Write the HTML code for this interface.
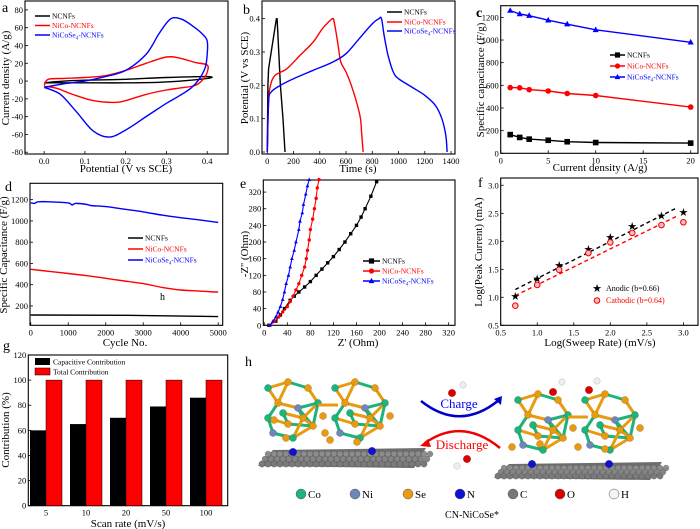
<!DOCTYPE html>
<html><head><meta charset="utf-8">
<style>
html,body{margin:0;padding:0;background:#fff;}
svg{display:block;font-family:"Liberation Serif",serif;}
</style></head>
<body>
<svg id="fig" width="700" height="529" viewBox="0 0 700 529" xmlns="http://www.w3.org/2000/svg"></svg>
<script>
// ---------- Panel a: CV ----------
const aBlackX=[0,0.05,0.1,0.2,0.3,0.4,0.4,0.3,0.2,0.1,0.02,0];
const aBlackY=[-2,0,1,2,4,5,3,-1,-2,-2,-2,-2];
const aRedX=[0,0.01,0.05,0.1,0.15,0.2,0.25,0.3,0.33,0.37,0.4,0.4,0.39,0.37,0.33,0.3,0.25,0.2,0.17,0.12,0.07,0.03,0];
const aRedY=[-5,2,3,4,6,12,20,27,26,21,18,10,2,-5,-8,-10,-15,-22,-24,-22,-15,-8,-6];
const aBlueX=[0,0.05,0.1,0.15,0.2,0.25,0.28,0.3,0.315,0.34,0.37,0.39,0.4,0.4,0.395,0.38,0.36,0.33,0.3,0.25,0.2,0.16,0.12,0.08,0.04,0];
const aBlueY=[-7,-3,0,5,12,30,52,65,71,69,60,52,45,30,15,2,-8,-17,-25,-40,-55,-63,-56,-35,-15,-7];
// ---------- Panel b: GCD ----------
const bBlackT=[0,5,10,30,50,70,75,100,120,135];
const bBlackV=[0,0.2,0.25,0.3,0.35,0.4,0.4,0.2,0.1,0];
const bRedT=[0,10,25,60,150,250,350,420,480,500,510,540,560,600,640,680,710,720,730];
const bRedV=[0,0.15,0.2,0.23,0.25,0.29,0.33,0.37,0.395,0.4,0.39,0.32,0.27,0.24,0.2,0.15,0.1,0.05,0];
const bBlueT=[0,10,30,100,200,350,500,600,700,800,850,870,890,920,960,1000,1100,1200,1280,1330,1360,1370];
const bBlueV=[0,0.15,0.18,0.2,0.22,0.245,0.27,0.295,0.34,0.385,0.4,0.4,0.35,0.29,0.24,0.22,0.195,0.17,0.14,0.1,0.05,0];
// ---------- Panel c: rate ----------
const cDensity=[1,2,3,5,7,10,20];
const cNCNF=[165,140,125,115,102,95,90];
const cNiCo=[580,578,562,550,528,510,408];
const cNiCoSe=[1260,1230,1215,1175,1140,1090,980];
// ---------- Panel d: cycling ----------
const dBlueC=[0,100,200,500,1000,1100,1200,1500,1600,2000,2500,3000,3500,4000,4500,5000];
const dBlueV=[1170,1165,1180,1180,1170,1150,1165,1155,1145,1135,1110,1085,1055,1030,1010,985];
const dRedC=[0,500,1000,1500,2000,2500,3000,3500,4000,4500,5000];
const dRedV=[545,525,505,485,460,435,410,375,350,340,330];
const dBlackC=[0,2500,5000];
const dBlackV=[115,112,100];
// ---------- Panel e: Nyquist ----------
const eBlackZr=[8,20,28,35,45,52,60,70,80,90,100,110,120,130,140,150,160,168,175,185,195];
const eBlackZi=[0,10,25,40,60,70,80,92,105,120,135,150,165,182,200,220,240,260,280,310,345];
const eRedZr=[10,18,25,32,40,45,50,55,60,65,70,73,75,78,80,84,87,90,92,95];
const eRedZi=[0,10,20,32,45,57,70,85,100,120,140,160,180,205,230,255,280,305,330,350];
const eBlueZr=[10,15,20,24,28,32,35,38,42,45,48,52,55,60,62,66,68,72,75,78];
const eBlueZi=[0,10,20,32,45,62,80,100,120,140,160,180,200,230,250,270,290,315,335,350];
// ---------- Panel f: b-value ----------
const fLogRate=[0.7,1,1.3,1.7,2,2.3,2.7,3];
const fAnodic=[1.01,1.33,1.57,1.85,2.07,2.26,2.45,2.51];
const fCathodic=[0.85,1.22,1.49,1.79,1.98,2.15,2.29,2.34];
const fFitX=[0.7,2.9];
const fFitAnodic=[1.14,2.59];
const fFitCathodic=[1.03,2.44];
// ---------- Panel g: contribution ----------
const gRates=["5","10","20","50","100"];
const gCapacitive=[60,65,70,79,86];
const gTotal=[100,100,100,100,100];

const NS="http://www.w3.org/2000/svg";
const svg=document.getElementById('fig');
const TICK=8.5;
function el(tag,attrs,parent){const e=document.createElementNS(NS,tag);for(const k in attrs)e.setAttribute(k,attrs[k]);(parent||svg).appendChild(e);return e;}
function txt(s,x,y,size,attrs,parent){const t=el('text',Object.assign({x:x,y:y,'font-size':size,fill:'#000'},attrs||{}),parent);t.textContent=s;return t;}

function axes(name,F,D,xt,yt,xfmt,yfmt){
  const g=el('g',{});
  
  
  const sx=v=>F.x0+(v-D.xmin)/(D.xmax-D.xmin)*(F.x1-F.x0);
  const sy=v=>F.y1-(v-D.ymin)/(D.ymax-D.ymin)*(F.y1-F.y0);
  const fr=el('rect',{x:F.x0,y:F.y0,width:F.x1-F.x0,height:F.y1-F.y0,fill:'none',stroke:'#000','stroke-width':1.1},g);
  
  
  xt.forEach(v=>{const x=sx(v);el('line',{x1:x,x2:x,y1:F.y1,y2:F.y1-3,stroke:'#000','stroke-width':0.8},g);
    const t=txt(xfmt?xfmt(v):String(v),x,F.y1+10,TICK,{'text-anchor':'middle'},g);
    
    });
  yt.forEach(v=>{const y=sy(v);el('line',{x1:F.x0,x2:F.x0+3,y1:y,y2:y,stroke:'#000','stroke-width':0.8},g);
    const t=txt(yfmt?yfmt(v):String(v),F.x0-2,y+3,TICK,{'text-anchor':'end'},g);
    
    });
  return {sx,sy,g};
}
function smoothPath(P){
  let d='M'+P[0][0].toFixed(1)+','+P[0][1].toFixed(1);
  for(let i=0;i<P.length-1;i++){
    const p0=P[Math.max(0,i-1)],p1=P[i],p2=P[i+1],p3=P[Math.min(P.length-1,i+2)];
    const c1=[p1[0]+(p2[0]-p0[0])/6,p1[1]+(p2[1]-p0[1])/6];
    const c2=[p2[0]-(p3[0]-p1[0])/6,p2[1]-(p3[1]-p1[1])/6];
    d+=`C${c1[0].toFixed(1)},${c1[1].toFixed(1)} ${c2[0].toFixed(1)},${c2[1].toFixed(1)} ${p2[0].toFixed(1)},${p2[1].toFixed(1)}`;
  }
  return d;
}
function line(A,xs,ys,color,name,extra,smooth){
  const P=xs.map((x,i)=>[A.sx(x),A.sy(ys[i])]);
  const d=smooth?smoothPath(P):P.map((p,i)=>(i?'L':'M')+p[0].toFixed(1)+','+p[1].toFixed(1)).join('');
  const p=el('path',Object.assign({d:d,fill:'none',stroke:color,'stroke-width':1.4,'stroke-linejoin':'round'},extra||{}),A.g);
  
  
  return p;
}
function marker(g,kind,x,y,color,r){
  if(kind==='sq')return el('rect',{x:x-r,y:y-r,width:2*r,height:2*r,fill:color},g);
  if(kind==='ci')return el('circle',{cx:x,cy:y,r:r,fill:color},g);
  if(kind==='tr')return el('path',{d:`M${x},${y-r*1.2}L${x+r*1.1},${y+r*0.8}L${x-r*1.1},${y+r*0.8}Z`,fill:color},g);
}
function legendLine(g,x1,x2,y,color,label,name,kind,tcolor){
  const lg=el('g',{},g);
  
  
  el('line',{x1:x1,x2:x2,y1:y,y2:y,stroke:color,'stroke-width':1.5},lg);
  if(kind)marker(lg,kind,(x1+x2)/2,y,color,2.6);
  const t=txt('',x2+2,y+2.5,7.5,{fill:tcolor||color},lg);
  return t;
}
function setLabel(t,parts){parts.forEach(p=>{const s=el('tspan',p.sub?{'font-size':5,dy:2}:{dy:p.up?-2:0},t);s.textContent=p.t;});}
function seLabel(t){setLabel(t,[{t:'NiCoSe'},{t:'4',sub:true},{t:'-NCNFs',up:true}]);}
function ytitle(s,x,y,name,size){const t=txt(s,x,y,size||11,{'text-anchor':'middle',transform:`rotate(-90 ${x} ${y})`});return t;}
function xtitle(s,x,y,name,size){const t=txt(s,x,y,size||11,{'text-anchor':'middle'});return t;}
function plabel(s,x,y,name){const t=txt(s,x,y,14,{});}

// ===== a =====
{const A=axes('panel-a-axes',{x0:25,x1:228,y0:1,y1:154},{xmin:-0.047,xmax:0.451,ymin:-82,ymax:90},[0,0.1,0.2,0.3,0.4],[-80,-60,-40,-20,0,20,40,60,80],v=>v.toFixed(1));
 line(A,aBlackX,aBlackY,'#000','cv-ncnfs',null,true);line(A,aRedX,aRedY,'#f00','cv-nico',null,true);line(A,aBlueX,aBlueY,'#00f','cv-nicose',null,true);
 legendLine(A.g,35,50,16,'#000','','legend-ncnfs').textContent='NCNFs';
 legendLine(A.g,35,50,25.5,'#f00','','legend-nico').textContent='NiCo-NCNFs';
 seLabel(legendLine(A.g,35,50,35,'#00f','','legend-nicose'));
 ytitle('Current density (A/g)',9,78,'y-axis-title-a');xtitle('Potential (V vs SCE)',126,172,'x-axis-title-a');plabel('a',2,12,'panel-label-a');}
// ===== b =====
{const A=axes('panel-b-axes',{x0:262,x1:455,y0:1,y1:154},{xmin:-40,xmax:1430,ymin:-0.006,ymax:0.453},[0,200,400,600,800,1000,1200,1400],[0,0.1,0.2,0.3,0.4],null,v=>v.toFixed(1));
 line(A,bBlackT,bBlackV,'#000','gcd-ncnfs');line(A,bRedT,bRedV,'#f00','gcd-nico',null,true);line(A,bBlueT,bBlueV,'#00f','gcd-nicose',null,true);
 legendLine(A.g,387,402,12,'#000','','legend-b-ncnfs').textContent='NCNFs';
 legendLine(A.g,387,402,22,'#f00','','legend-b-nico').textContent='NiCo-NCNFs';
 seLabel(legendLine(A.g,387,402,31,'#00f','','legend-b-nicose'));
 ytitle('Potential (V vs SCE)',248,78,'y-axis-title-b');xtitle('Time (s)',358,172,'x-axis-title-b');plabel('b',243,14,'panel-label-b');}
// ===== c =====
{const A=axes('panel-c-axes',{x0:500.7,x1:698,y0:5.7,y1:153.3},{xmin:0,xmax:20.77,ymin:0,ymax:1303},[0,5,10,15,20],[0,200,400,600,800,1000,1200]);
 [[cNCNF,'#000','sq','rate-ncnfs'],[cNiCo,'#f00','ci','rate-nico'],[cNiCoSe,'#00f','tr','rate-nicose']].forEach(([ys,c,k,n])=>{
  line(A,cDensity,ys,c,n);cDensity.forEach((x,i)=>{const m=marker(A.g,k,A.sx(x),A.sy(ys[i]),c,2.8);});});
 legendLine(A.g,610,625,55,'#000','','legend-c-ncnfs','sq').textContent='NCNFs';
 legendLine(A.g,610,625,66,'#f00','','legend-c-nico','ci').textContent='NiCo-NCNFs';
 seLabel(legendLine(A.g,610,625,77,'#00f','','legend-c-nicose','tr'));
 ytitle('Specific capacitance (F/g)',484,80,'y-axis-title-c');xtitle('Current density (A/g)',600,171,'x-axis-title-c');
 const t=txt('c',476,17,14,{'font-weight':'bold'});}
// ===== d =====
{const A=axes('panel-d-axes',{x0:30,x1:222.7,y0:183.3,y1:325.3},{xmin:-20,xmax:5120,ymin:18,ymax:1354},[0,1000,2000,3000,4000,5000],[200,400,600,800,1000,1200]);
 line(A,dBlackC,dBlackV,'#000','cycle-ncnfs');line(A,dRedC,dRedV,'#f00','cycle-nico',null,true);line(A,dBlueC,dBlueV,'#00f','cycle-nicose',null,true);
 legendLine(A.g,128,143,238,'#000','','legend-d-ncnfs',null,'#000').textContent='NCNFs';
 legendLine(A.g,128,143,249,'#f00','','legend-d-nico').textContent='NiCo-NCNFs';
 seLabel(legendLine(A.g,128,143,260,'#00f','','legend-d-nicose'));
 const h=txt('h',160,300,10,{});
 ytitle('Specific Capacitance (F/g)',7,255,'y-axis-title-d',11);xtitle('Cycle No.',125,346,'x-axis-title-d');plabel('d',5,191,'panel-label-d');}
// ===== e =====
{const A=axes('panel-e-axes',{x0:263.3,x1:455,y0:180,y1:325.3},{xmin:-1.7,xmax:331,ymin:0,ymax:349},[0,40,80,120,160,200,240,280,320],[0,40,80,120,160,200,240,280,320]);
 [[eBlackZr,eBlackZi,'#000','sq','eis-ncnfs'],[eRedZr,eRedZi,'#f00','ci','eis-nico'],[eBlueZr,eBlueZi,'#00f','tr','eis-nicose']].forEach(([xs,ys,c,k,n])=>{
  line(A,xs,ys,c,n,{'stroke-width':1.1});xs.forEach((x,i)=>{const m=marker(A.g,k,A.sx(x),A.sy(ys[i]),c,1.7);});});
 legendLine(A.g,363,380,261,'#000','','legend-e-ncnfs','sq').textContent='NCNFs';
 legendLine(A.g,363,380,271,'#f00','','legend-e-nico','ci').textContent='NiCo-NCNFs';
 seLabel(legendLine(A.g,363,380,281,'#00f','','legend-e-nicose','tr'));
 ytitle("-Z'' (Ohm)",248,254,'y-axis-title-e');xtitle("Z' (Ohm)",358,346,'x-axis-title-e');plabel('e',240,188,'panel-label-e');}
// ===== f =====
{const A=axes('panel-f-axes',{x0:500.7,x1:698,y0:178,y1:325.3},{xmin:0.5,xmax:3.2,ymin:0.5,ymax:3.13},[0.5,1,1.5,2,2.5,3],[0.5,1,1.5,2,2.5,3],v=>v.toFixed(1),v=>v.toFixed(1));
 line(A,fFitX,fFitAnodic,'#000','fit-anodic',{'stroke-dasharray':'4 3'});line(A,fFitX,fFitCathodic,'#f00','fit-cathodic',{'stroke-dasharray':'4 3'});
 fLogRate.forEach((x,i)=>{const s=txt('★',A.sx(x),A.sy(fAnodic[i])+3.5,11,{'text-anchor':'middle'},A.g);
  const c=el('circle',{cx:A.sx(x),cy:A.sy(fCathodic[i]),r:2.8,fill:'#fbb',stroke:'#e00','stroke-width':1},A.g);});
 const l1=txt('★',597,292,11,{'text-anchor':'middle'});
 txt('Anodic (b=0.66)',606,291,8,{});
 const l2=el('circle',{cx:597,cy:300.5,r:2.8,fill:'#fbb',stroke:'#e00','stroke-width':1});
 txt('Cathodic (b=0.64)',606,303,8,{fill:'#f00'});
 ytitle('Log(Peak Current) (mA)',482,252,'y-axis-title-f');xtitle('Log(Sweep Rate) (mV/s)',600,346,'x-axis-title-f');plabel('f',478,187,'panel-label-f');}
// ===== g =====
{const F={x0:28.3,x1:227.7,y0:355,y1:505.7};
 const A=axes('panel-g-axes',F,{xmin:0,xmax:1,ymin:0,ymax:120},[],[0,20,40,60,80,100,120]);
 const cx=i=>F.x0+17.7+40*i;
 gRates.forEach((r,i)=>{
  const b=el('rect',{x:cx(i)-16,y:A.sy(gCapacitive[i]),width:16,height:A.sy(0)-A.sy(gCapacitive[i]),fill:'#000'},A.g);
  const t=el('rect',{x:cx(i),y:A.sy(gTotal[i]),width:16,height:A.sy(0)-A.sy(gTotal[i]),fill:'#f00',stroke:'#000','stroke-width':0.5},A.g);
  const lb=txt(r,cx(i),F.y1+10,TICK,{'text-anchor':'middle'},A.g);});
 const r1=el('rect',{x:35,y:358,width:15,height:7,fill:'#000'});
 txt('Capacitive Contribution',53,364.5,7.5,{});
 const r2=el('rect',{x:35,y:368,width:15,height:7,fill:'#f00',stroke:'#000','stroke-width':0.5});
 txt('Total Contribution',53,374.5,7.5,{});
 ytitle('Contribution (%)',9,430,'y-axis-title-g');xtitle('Scan rate (mV/s)',128,527,'x-axis-title-g');plabel('g',3,350,'panel-label-g');}

// ===== h : schematic =====
{const g=el('g',{});
 plabel('h',245,366,'panel-label-h');
 const COL={Co:'#1db37a',Ni:'#6f86b8',Se:'#e89a10',N:'#1010d0',C:'#777',O:'#d00',H:'#eee'};
 function ball(x,y,r,c){el('circle',{cx:x,cy:y,r:r,fill:c,stroke:'rgba(0,0,0,0.25)','stroke-width':0.5},g);}
 function slab(x0,x1,y,dy){el('path',{d:`M${x0},${y+dy}L${x0+15},${y}L${x1},${y-2}L${x1-12},${y+dy+2}Z`,fill:'#6e6e6e'},g);
   for(let x=x0+4;x<x1;x+=6){ball(x,y+dy-2,3.2,'#7a7a7a');ball(x+6,y+4,3,'#8c8c8c');ball(x+3,y+dy/2+1,3,'#858585');}}
 function cluster(ox,oy){
   const pts=[[0,0],[20,-6],[40,0],[50,15],[30,20],[10,15],[0,30],[20,36],[45,38],[25,50],[5,45],[55,28],[15,25],[35,30]];
   pts.forEach((p,i)=>{[1,4,5].forEach(k=>{const q=pts[(i+k)%pts.length];
     if(Math.hypot(q[0]-p[0],q[1]-p[1])<28)el('line',{x1:ox+p[0],y1:oy+p[1],x2:ox+q[0],y2:oy+q[1],stroke:(i+k)%2?COL.Se:COL.Co,'stroke-width':3},g);});});
   pts.forEach((p,i)=>ball(ox+p[0],oy+p[1],3.6,[COL.Co,COL.Se,COL.Se,COL.Co,COL.Ni,COL.Se][i%6]));
 }
 slab(258,426,450,16);
 ball(293,452,3.8,COL.N);ball(372,451,3.8,COL.N);
 cluster(268,388);cluster(335,388);el('line',{x1:318,y1:405,x2:338,y2:405,stroke:COL.Se,'stroke-width':3},g);
 ball(325,433,3.6,COL.Se);ball(357,442,3.6,COL.Se);ball(330,440,3.6,COL.Se);ball(286,438,3.6,COL.Se);ball(274,420,3.6,COL.Se);
 slab(494,662,464,14);
 ball(532,464,3.8,COL.N);ball(609,464,3.8,COL.N);
 cluster(518,400);cluster(585,400);el('line',{x1:568,y1:417,x2:588,y2:417,stroke:COL.Se,'stroke-width':3},g);
 ball(512,447,3.6,COL.Se);ball(578,447,3.6,COL.Se);ball(540,444,3.6,COL.Se);ball(605,449,3.6,COL.Se);
 // waters
 ball(553,392,3.8,COL.O);ball(562,382,3.2,COL.H);ball(589,390,3.8,COL.O);ball(597,381,3.2,COL.H);
 ball(452,393,3.8,COL.O);ball(463,385,3.2,COL.H);ball(467,459,3.8,COL.O);ball(457,466,3.2,COL.H);
 // arrows
 const a1=el('path',{d:'M421,401 Q460,432 499,400',fill:'none',stroke:'#00c','stroke-width':2.5});
 el('path',{d:'M502,396 L494,399 L501,405 Z',fill:'#00c'},g);
 const t1=txt('Charge',459,408,13,{'text-anchor':'middle',fill:'#00f'});
 const a2=el('path',{d:'M500,448 Q462,417 425,443',fill:'none',stroke:'#e00','stroke-width':2.5});
 el('path',{d:'M420,446 L428,439 L431,447 Z',fill:'#e00'},g);
 const t2=txt('Discharge',462,449,13,{'text-anchor':'middle',fill:'#f00'});
 // atom legend
 [['Co',301],['Ni',355],['Se',408],['N',460],['C',513],['O',560],['H',614]].forEach(([s,x])=>{
   const lg=el('g',{},g);
   el('circle',{cx:x,cy:494,r:5,fill:COL[s]==='#eee'?'#f4f4f4':COL[s],stroke:'#555','stroke-width':0.5},lg);
   txt(s,x+7,498,11,{},lg);});
 const cap=txt('CN-NiCoSe*',472,518,10,{'text-anchor':'middle'});}
</script>
</body></html>
